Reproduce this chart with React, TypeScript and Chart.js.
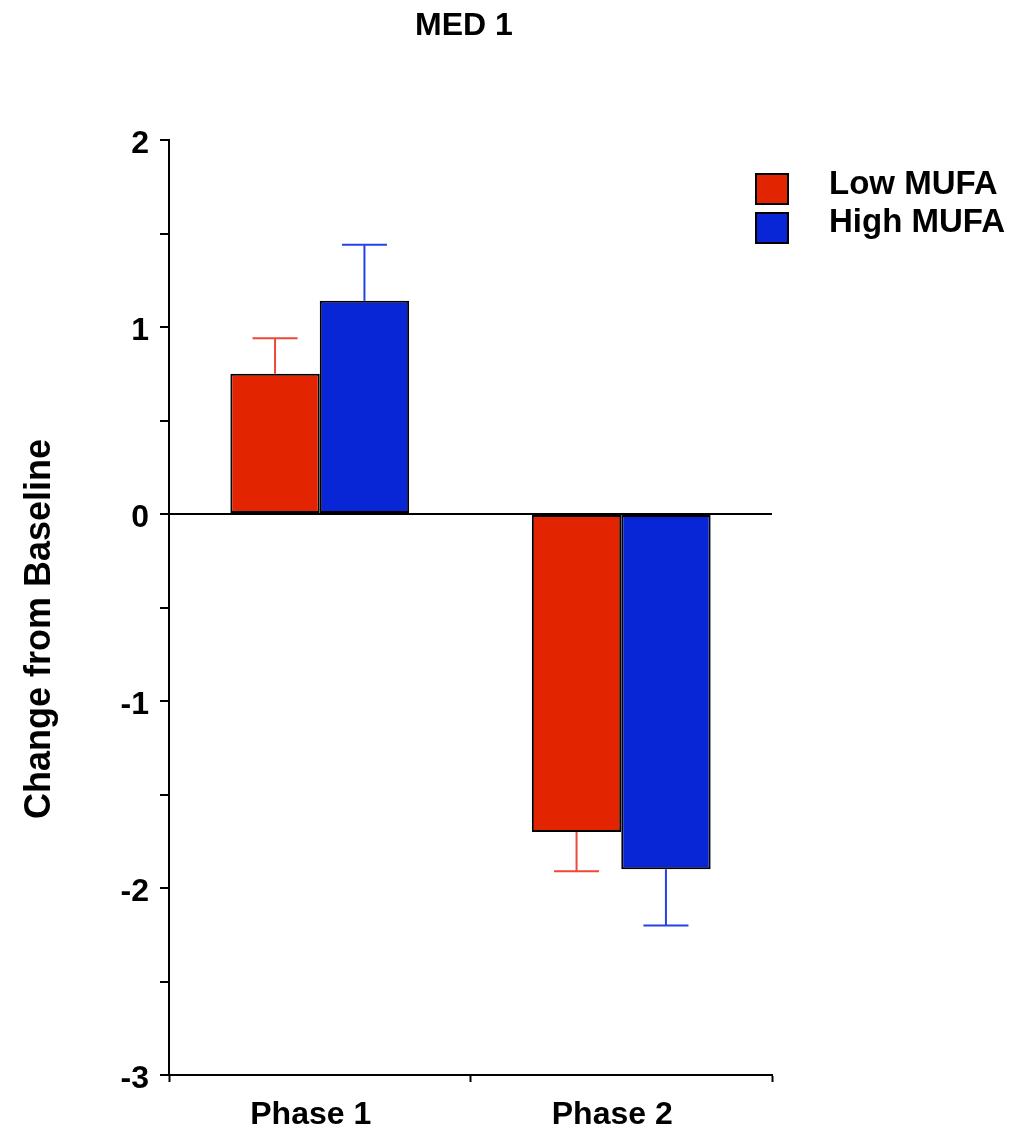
import React, { useEffect, useRef } from "react";
import { Chart, registerables } from "chart.js";

Chart.register(...registerables);

const chartTitle = "MED 1";
const yAxisTitle = "Change from Baseline";
const categories = ["Phase 1", "Phase 2"];
const seriesLabels = ["Low MUFA", "High MUFA"];
const lowMufa = [0.75, -1.7];
const highMufa = [1.14, -1.9];
const lowMufaErr = [0.19, 0.21];
const highMufaErr = [0.3, 0.3];
const yMin = -3;
const yMax = 2;
const yStep = 0.5;

const FONT = "'Liberation Sans', Arial, Helvetica, sans-serif";
const RED = "rgb(227,36,0)";
const BLUE = "rgb(8,38,214)";
const RED_ERR = "rgb(240,72,56)";
const BLUE_ERR = "rgb(36,66,230)";

export default function App() {
  const ref = useRef<HTMLCanvasElement | null>(null);

  useEffect(() => {
    if (!ref.current) return;
    const errors = [lowMufaErr, highMufaErr];
    const errColors = [RED_ERR, BLUE_ERR];

    const errorBars = {
      id: "errorBars",
      afterDatasetsDraw(chart: any) {
        const ctx = chart.ctx;
        const yScale = chart.scales.y;
        chart.data.datasets.forEach((ds: any, i: number) => {
          const meta = chart.getDatasetMeta(i);
          meta.data.forEach((el: any, j: number) => {
            const v = ds.data[j];
            const e = errors[i][j];
            const end = v >= 0 ? v + e : v - e;
            const y0 = yScale.getPixelForValue(v);
            const y1 = yScale.getPixelForValue(end);
            ctx.save();
            ctx.strokeStyle = errColors[i];
            ctx.lineWidth = 2;
            ctx.beginPath();
            ctx.moveTo(el.x, y0);
            ctx.lineTo(el.x, y1);
            ctx.moveTo(el.x - 22.5, y1);
            ctx.lineTo(el.x + 22.5, y1);
            ctx.stroke();
            ctx.restore();
          });
        });
      },
    };

    const decorations = {
      id: "decorations",
      afterDraw(chart: any) {
        const ctx = chart.ctx;
        ctx.save();
        ctx.fillStyle = "#000";
        ctx.font = `bold 32px ${FONT}`;
        ctx.textAlign = "center";
        ctx.textBaseline = "alphabetic";
        ctx.fillText(chartTitle, 464, 35);

        // y axis title
        ctx.save();
        ctx.translate(50, 629);
        ctx.rotate(-Math.PI / 2);
        ctx.font = `bold 36px ${FONT}`;
        ctx.textAlign = "center";
        ctx.textBaseline = "alphabetic";
        ctx.fillText(yAxisTitle, 0, 0);
        ctx.restore();

        // legend
        const boxTops = [173, 212];
        const baselines = [194, 232];
        chart.data.datasets.forEach((ds: any, i: number) => {
          ctx.fillStyle = ds.backgroundColor;
          ctx.fillRect(755, boxTops[i], 34, 32);
          ctx.strokeStyle = "#000";
          ctx.lineWidth = 2;
          ctx.strokeRect(756, boxTops[i] + 1, 32, 30);
          ctx.fillStyle = "#000";
          ctx.font = `bold 33px ${FONT}`;
          ctx.textAlign = "left";
          ctx.textBaseline = "alphabetic";
          ctx.fillText(ds.label, 829, baselines[i]);
        });
        ctx.restore();
      },
    };

    const chart = new Chart(ref.current, {
      type: "bar",
      data: {
        labels: categories,
        datasets: [
          {
            label: seriesLabels[0],
            data: lowMufa,
            backgroundColor: RED,
            borderColor: "#000",
            borderWidth: 2,
            borderSkipped: false,
          },
          {
            label: seriesLabels[1],
            data: highMufa,
            backgroundColor: BLUE,
            borderColor: "#000",
            borderWidth: 2,
            borderSkipped: false,
          },
        ],
      },
      options: {
        responsive: false,
        animation: false,
        layout: { padding: { top: 140, right: 249, bottom: 0, left: 0 } },
        datasets: { bar: { categoryPercentage: 0.593, barPercentage: 1.0 } },
        plugins: {
          legend: { display: false },
          title: { display: false },
          tooltip: { enabled: false },
        },
        scales: {
          x: {
            afterFit: (s: any) => {
              s.height = 55;
            },
            grid: {
              display: true,
              drawOnChartArea: false,
              offset: true,
              tickLength: 7,
              tickColor: "#000",
              tickWidth: 2,
            },
            border: { display: true, color: "#000", width: 2 },
            ticks: {
              color: "#000",
              font: { family: FONT, size: 32, weight: "bold" },
              padding: 14,
              labelOffset: -9,
              maxRotation: 0,
            },
          },
          y: {
            min: yMin,
            max: yMax,
            afterFit: (s: any) => {
              s.width = 169;
            },
            grid: {
              display: true,
              drawOnChartArea: true,
              color: (c: any) => (c.tick && c.tick.value === 0 ? "#000" : "rgba(0,0,0,0)"),
              lineWidth: 2,
              tickLength: 9,
              tickColor: "#000",
              tickWidth: 2,
            },
            border: { display: true, color: "#000", width: 2 },
            ticks: {
              stepSize: yStep,
              color: "#000",
              font: { family: FONT, size: 32, weight: "bold" },
              padding: 11,
              labelOffset: 4,
              callback: (v: any) => (Number.isInteger(v) ? String(v) : ""),
            },
          },
        },
      },
      plugins: [errorBars, decorations],
    } as any);

    return () => chart.destroy();
  }, []);

  return (
    <div style={{ position: "absolute", left: 0, top: 0, width: 1021, height: 1130 }}>
      <canvas ref={ref} width={1021} height={1130} style={{ display: "block" }} />
    </div>
  );
}
